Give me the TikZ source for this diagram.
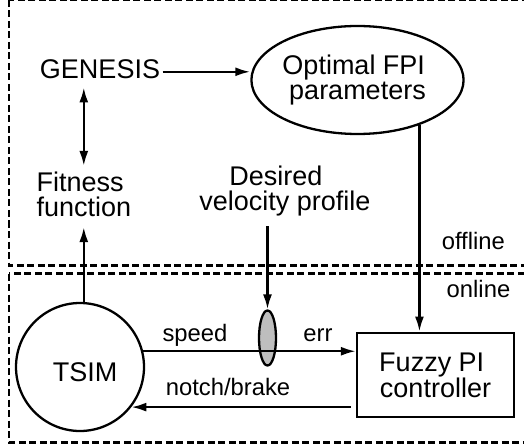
\documentclass[tikz,border=0pt]{standalone}
\usepackage{fontspec}
\setmainfont{Liberation Sans}
\usetikzlibrary{arrows.meta,shapes.geometric,calc}

\begin{document}
\begin{tikzpicture}[x=1pt,y=-1pt,
  txt/.style={font=\fontsize{27}{25}\selectfont, inner sep=0pt, align=center},
  tag/.style={font=\fontsize{23.8}{24}\selectfont, inner sep=0pt, anchor=base},
  shape line/.style={draw, line width=2.3pt},
  arr/.style={line width=2.3pt, -{Latex[length=15pt,width=9pt]}},
  dblarr/.style={line width=2.3pt, {Latex[length=15pt,width=9pt]}-{Latex[length=15pt,width=9pt]}},
  zone/.style={line width=2.3pt, dash pattern=on 7pt off 3.5pt}]

\useasboundingbox (0,0) rectangle (524,446);
\clip (0,0) rectangle (524,446);

% offline and online regions
\draw[zone] (9.3,0) rectangle (560,265.5);
\draw[zone] (9.3,273.5) rectangle (560,442.5);

% offline part
\node[txt, anchor=base, inner xsep=2.5pt] (genesis) at (100,78.3) {GENESIS};
\node[txt, ellipse, shape line, minimum width=197pt, minimum height=108pt, inner sep=0pt]
  (opt) at (357.5,80) {Optimal FPI\kern7.5pt\\parameters};
\node[txt] (fit) at (83.8,194.5) {Fitness\kern7.5pt\\function};
\node[txt] (des) at (285,191.4) {Desired\kern18pt\\velocity profile};

% online part
\node[circle, shape line, minimum size=128pt, inner sep=0pt] (tsim) at (80,367) {};
\node[txt] (tsimtext) at (85,372.5) {TSIM};
\node[txt, shape line, minimum width=157pt, minimum height=84.6pt]
  (ctrl) at (435.5,375) {Fuzzy PI\kern7.5pt\\controller};
\node[ellipse, shape line, fill={rgb,255:red,190;green,190;blue,190},
  minimum width=17pt, minimum height=55pt, inner sep=0pt] (cmp) at (267.5,338) {};

% connectors
\coordinate (g1) at ($(genesis.east)!0.3!(genesis.base east)$);
\draw[arr] (g1) -- (g1 -| opt.west);
\draw[dblarr] ($(fit.north |- genesis.south)+(0,8.7)$) -- ($(fit.north)+(0,-6)$);
\draw[arr] (fit.south |- tsim.north) -- ($(fit.south)+(0,10)$);
\draw[arr] ($(des.south -| cmp.north)+(0,9.4)$) -- (cmp.north);
\draw[arr] (opt.-36) -- (opt.-36 |- ctrl.north);
\draw[arr] (tsim.14) -- (tsim.14 -| ctrl.west);
\draw[arr] ($(ctrl.west |- tsim.-38)+(-5,0)$) -- (tsim.-38);

% labels
\node[tag] (speed) at (195,341.7) {speed};
\node[tag] (err) at (318,341.7) {err};
\node[tag] (notch) at (228,395) {notch/brake};
\node[tag] (offline) at (473.3,249) {offline};
\node[tag] (online) at (478.5,297) {online};
\end{tikzpicture}
\end{document}
